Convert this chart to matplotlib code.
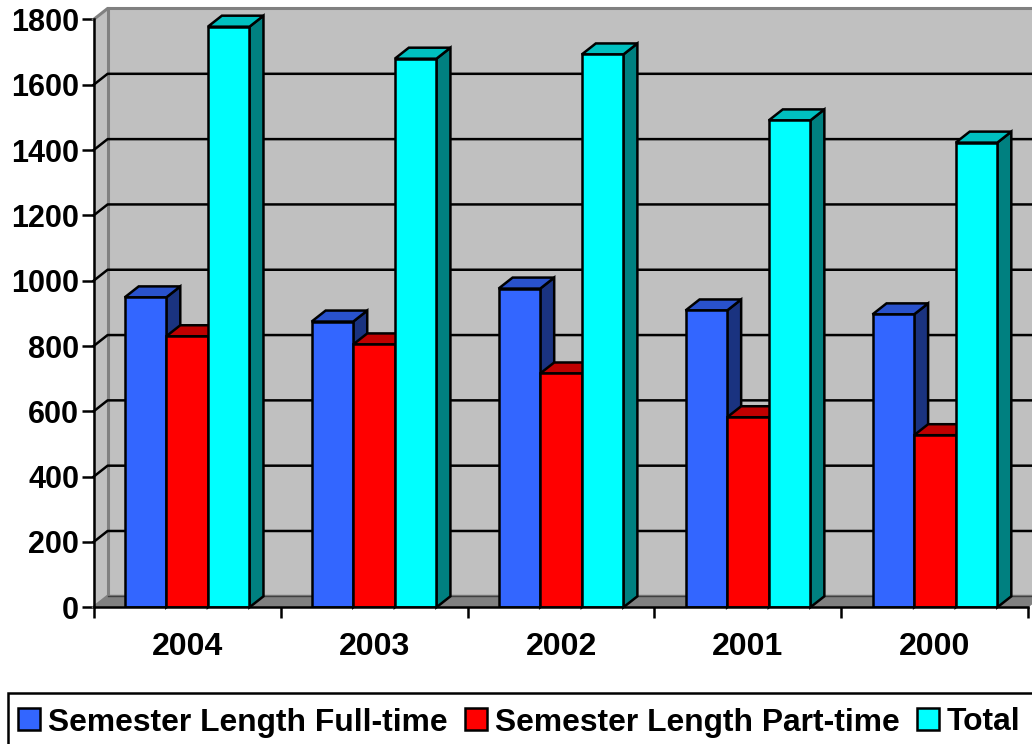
import matplotlib
matplotlib.use("Agg")
import matplotlib.pyplot as plt
from matplotlib.patches import Polygon, Patch, Rectangle

plt.rcParams["font.family"] = ["Liberation Sans", "DejaVu Sans"]
plt.rcParams["font.weight"] = "bold"

years = ["2004", "2003", "2002", "2001", "2000"]
full_time = [949, 875, 976, 909, 897]
part_time = [830, 805, 716, 582, 527]
total = [1778, 1680, 1693, 1491, 1423]
y_ticks = [0, 200, 400, 600, 800, 1000, 1200, 1400, 1600, 1800]

names = ["Semester Length Full-time", "Semester Length Part-time", "Total"]
series = [full_time, part_time, total]
front = ["#3366FF", "#FF0000", "#00FFFF"]
top = ["#2952CC", "#C00000", "#00C0C0"]
side = ["#1A3380", "#800000", "#008080"]

W, H = 1032, 744
fig = plt.figure(figsize=(W / 100, H / 100), dpi=100)
ax = fig.add_axes([93.6 / W, 1 - 607.3 / H, (1028.4 - 93.6) / W, (607.3 - 19.5) / H])
ax.set_xlim(-0.5, 4.5)
ax.set_ylim(0, 1800)
ax.patch.set_visible(False)

# depth of the fake 3d, in data units
ddx = 14 / 187
ddy = 11 * 1800 / 587.8
bar_w = 0.2225
lw = 1.8

x0, x1 = -0.5, 4.5
ymax = 1800
# walls and floor
ax.add_patch(Polygon([(x0, 0), (x0 + ddx, ddy), (x1 + ddx, ddy), (x1, 0)], fc="#808080", ec="none", clip_on=False, zorder=1))
ax.add_patch(Polygon([(x0 + ddx, ddy), (x0 + ddx, ymax + ddy), (x1 + ddx, ymax + ddy), (x1 + ddx, ddy)], fc="#C0C0C0", ec="none", clip_on=False, zorder=1))
ax.add_patch(Polygon([(x0, 0), (x0, ymax), (x0 + ddx, ymax + ddy), (x0 + ddx, ddy)], fc="#C0C0C0", ec="none", clip_on=False, zorder=1))

# wall edges
ax.plot([x0, x0 + ddx, x1 + ddx], [ymax, ymax + ddy, ymax + ddy], c="#808080", lw=2.2, clip_on=False, zorder=2)
ax.plot([x0 + ddx, x0 + ddx], [ddy, ymax + ddy], c="#808080", lw=2.2, clip_on=False, zorder=2)
ax.plot([x0, x0 + ddx, x1 + ddx], [0, ddy, ddy], c="#808080", lw=2.2, clip_on=False, zorder=2)

# gridlines
for v in y_ticks[1:-1]:
    ax.plot([x0, x0 + ddx, x1 + ddx], [v, v + ddy, v + ddy], c="k", lw=lw, clip_on=False, zorder=3)
ax.plot([x0 + ddx, x1 + ddx], [ddy, ddy], c="#404040", lw=1, clip_on=False, zorder=3)

# bars, left to right so the nearer one covers the side of the last
z = 4
for i in range(len(years)):
    for j in range(3):
        left = i + (j - 1.5) * bar_w
        right = left + bar_w
        v = series[j][i]
        ax.add_patch(Polygon([(right, 0), (right + ddx, ddy), (right + ddx, v + ddy), (right, v)],
                             fc=side[j], ec="k", lw=lw, clip_on=False, zorder=z, joinstyle="miter"))
        ax.add_patch(Polygon([(left, v), (left + ddx, v + ddy), (right + ddx, v + ddy), (right, v)],
                             fc=top[j], ec="k", lw=lw, clip_on=False, zorder=z, joinstyle="miter"))
        ax.bar(left, v, bar_w, align="edge", color=front[j], edgecolor="k", lw=lw, zorder=z + 0.5)
        z += 1

for s in ["top", "right"]:
    ax.spines[s].set_visible(False)
for s in ["left", "bottom"]:
    ax.spines[s].set_linewidth(lw)
    ax.spines[s].set_zorder(50)

ax.set_yticks(y_ticks)
ax.set_yticklabels([str(v) for v in y_ticks], fontsize=22, fontweight="bold")
ax.tick_params(axis="y", length=8.5, width=lw, pad=2)

ax.set_xticks([-0.5, 0.5, 1.5, 2.5, 3.5, 4.5])
ax.set_xticklabels([])
ax.set_xticks(range(5), labels=years, minor=True, fontsize=23, fontweight="bold")
ax.tick_params(axis="x", which="major", length=8, width=lw)
ax.tick_params(axis="x", which="minor", length=0, pad=18)

# legend box runs off the right and bottom of the picture
fig.add_artist(Rectangle((8 / W, -0.02), 1.0, 0.02 + 1 - 692.5 / H, transform=fig.transFigure,
                         fc="white", ec="k", lw=lw, clip_on=True))
handles = [Patch(fc=front[k], ec="k", lw=lw, label=names[k]) for k in range(3)]
leg = fig.legend(handles=handles, loc="upper left", bbox_to_anchor=(18 / W, 1 - 707.5 / H), ncol=3,
                 prop={"family": "Liberation Sans", "weight": "bold", "size": 22.9},
                 frameon=False, borderpad=0, borderaxespad=0,
                 handlelength=0.68, handleheight=0.68, handletextpad=0.25, columnspacing=0.56)

fig.savefig("out.png", dpi=100)
